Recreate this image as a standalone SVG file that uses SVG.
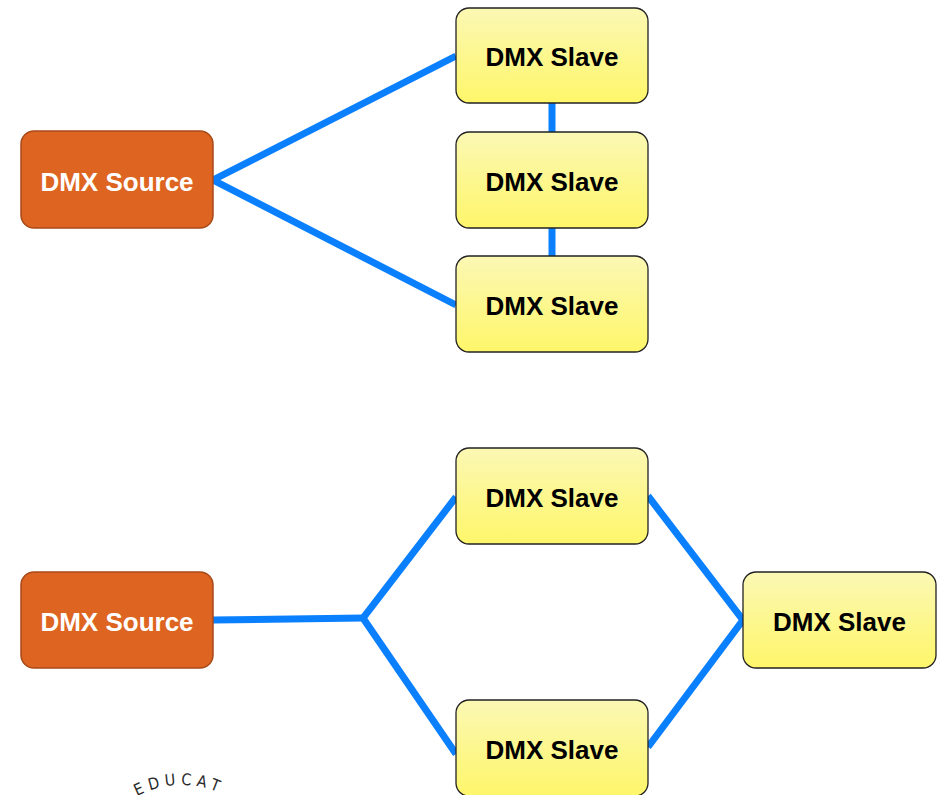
<svg xmlns="http://www.w3.org/2000/svg" width="941" height="795" viewBox="0 0 941 795">
  <defs>
    <linearGradient id="slaveFill" x1="0" y1="0" x2="0" y2="1">
      <stop offset="0" stop-color="#fbf8b4"/>
      <stop offset="1" stop-color="#fef66a"/>
    </linearGradient>
    <path id="stampArc" d="M109.2,818.9 A95,95 0 0 1 254.8,818.9"/>
  </defs>
  <style>
    .source rect { fill: #de6421; stroke: #a84a18; stroke-width: 1.5; }
    .slave rect { fill: url(#slaveFill); stroke: #222; stroke-width: 1.3; }
    .label { font-family: "Liberation Sans", Arial, sans-serif; font-weight: bold; font-size: 26px; text-anchor: middle; }
    .source text { fill: #ffffff; }
    .slave text { fill: #000000; }
    .wire { fill: none; stroke: #0a80ff; stroke-width: 7; stroke-linecap: butt; stroke-linejoin: miter; }
    .stamp { font-family: "DejaVu Sans Condensed", "DejaVu Sans", sans-serif; font-stretch: condensed; font-size: 16px; fill: #2a2a2a; letter-spacing: 5px; }
  </style>

  <!-- connectors -->
  <g id="connectors">
    <polyline class="wire" points="456,56 213,180 456,305"/>
    <line class="wire" x1="552" y1="103" x2="552" y2="132" stroke-width="8"/>
    <line class="wire" x1="552" y1="228" x2="552" y2="256" stroke-width="8"/>
    <line class="wire" x1="213" y1="620" x2="363" y2="618"/>
    <polyline class="wire" points="456,497 363,618 456,754"/>
    <polyline class="wire" points="648,496 743,620 648,747"/>
  </g>

  <!-- upper network -->
  <g id="source-top" class="source">
    <rect x="21" y="131" width="192" height="97" rx="13"/>
    <text class="label" x="117" y="191">DMX Source</text>
  </g>
  <g id="slave-top-1" class="slave">
    <rect x="456" y="8" width="192" height="95" rx="13"/>
    <text class="label" x="552" y="66">DMX Slave</text>
  </g>
  <g id="slave-top-2" class="slave">
    <rect x="456" y="132" width="192" height="96" rx="13"/>
    <text class="label" x="552" y="191">DMX Slave</text>
  </g>
  <g id="slave-top-3" class="slave">
    <rect x="456" y="256" width="192" height="96" rx="13"/>
    <text class="label" x="552" y="315">DMX Slave</text>
  </g>

  <!-- lower network -->
  <g id="source-bottom" class="source">
    <rect x="21" y="572" width="192" height="96" rx="13"/>
    <text class="label" x="117" y="631">DMX Source</text>
  </g>
  <g id="slave-bottom-upper" class="slave">
    <rect x="456" y="448" width="192" height="96" rx="13"/>
    <text class="label" x="552" y="507">DMX Slave</text>
  </g>
  <g id="slave-bottom-lower" class="slave">
    <rect x="456" y="700" width="192" height="96" rx="13"/>
    <text class="label" x="552" y="759">DMX Slave</text>
  </g>
  <g id="slave-bottom-right" class="slave">
    <rect x="743" y="572" width="193" height="96" rx="13"/>
    <text class="label" x="839.5" y="631">DMX Slave</text>
  </g>

  <!-- stamp lettering -->
  <text class="stamp"><textPath href="#stampArc" startOffset="36">EDUCAT</textPath></text>
</svg>
